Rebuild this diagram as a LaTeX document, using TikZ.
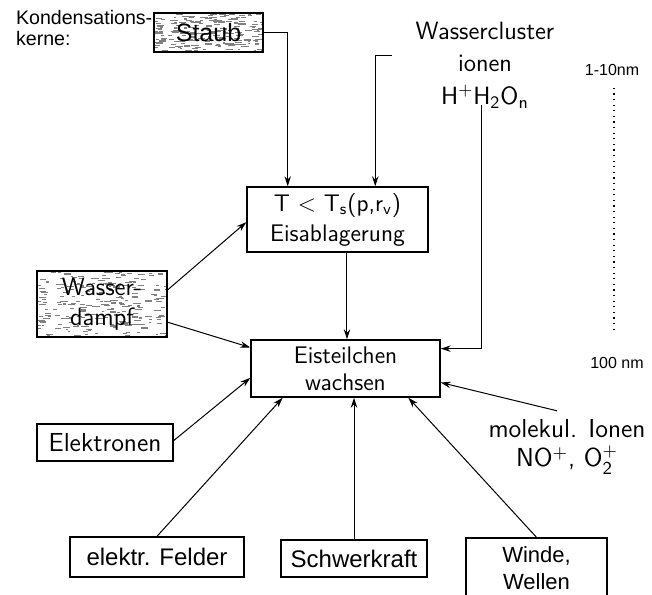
\documentclass[tikz,border=0pt]{standalone}
\usepackage{fontspec}
\newfontfamily\arialf{Liberation Sans}
\usetikzlibrary{calc,arrows.meta}
\begin{document}
\begin{tikzpicture}[x=0.5pt,y=-0.5pt,
  arr/.style={-{Stealth[length=5pt,width=3.2pt]}, line width=0.5pt},
  box/.style={draw, line width=0.7pt, inner sep=0pt, align=center},
  lm/.style={font=\sffamily\fontsize{12}{15}\selectfont},
  noisy/.style 2 args={path picture={
    \pgfmathsetseed{11}
    \foreach \i in {1,...,240}{
      \pgfmathsetmacro\rx{rnd}\pgfmathsetmacro\ry{rnd}\pgfmathsetmacro\rl{2+6*rnd}
      \draw[black!50, line width=0.55pt]
        ($(path picture bounding box.north west)+(\rx*#1,\ry*#2)$) -- ++(\rl,0);
    }}}]
\useasboundingbox (0,0) rectangle (652,594);

% text labels
\node[font=\arialf\fontsize{9.8}{10.5}\selectfont, align=left, anchor=west] (kond) at (9,28) {Kondensations-\\kerne:};
\node[font=\sffamily\fontsize{12.5}{16.3}\selectfont, align=center] (wc) at (485,65)
  {Wassercluster\\ionen\\H\textsuperscript{+}H\textsubscript{2}O\textsubscript{n}};
\node[font=\sffamily\fontsize{13}{14.5}\selectfont, align=center] (mol) at (567,447)
  {molekul. Ionen\\NO\textsuperscript{+}, $\mathsf{O}_{\mathsf{2}}^{+}$};
\node[font=\arialf\fontsize{8}{9}\selectfont] (s1) at (612,70) {1-10nm};
\node[font=\arialf\fontsize{8}{9}\selectfont] (s2) at (617,363) {100 nm};

% boxes
\node[box, noisy={109}{39}, minimum width=54.5pt, minimum height=19.5pt,
  font=\arialf\fontsize{12.5}{14}\selectfont] (staub) at (208.5,32.5) {Staub};
\node[box, lm, minimum width=90.5pt, minimum height=32.5pt] (ablag) at (337.5,219.5)
  {T $<$ T\textsubscript{s}(p,r\textsubscript{v})\\Eisablagerung};
\node[box, font=\sffamily\fontsize{12}{13.5}\selectfont, minimum width=94.5pt, minimum height=28.5pt] (wachs) at (345.5,368.5)
  {Eisteilchen\\wachsen};
\node[box, noisy={130}{66}, font=\sffamily\fontsize{12.5}{15}\selectfont, minimum width=65pt, minimum height=33pt] (dampf) at (102,304)
  {Wasser-\\dampf};
\node[box, font=\sffamily\fontsize{13}{15}\selectfont, minimum width=68pt, minimum height=18.5pt] (elek) at (105,442.5) {Elektronen};
\node[box, font=\arialf\fontsize{12}{15}\selectfont, minimum width=87pt, minimum height=20pt] (feld) at (157,557) {elektr. Felder};
\node[box, font=\arialf\fontsize{12}{15}\selectfont, minimum width=73pt, minimum height=18.5pt] (schw) at (354,558.5) {Schwerkraft};
\node[box, font=\arialf\fontsize{11}{13.2}\selectfont, minimum width=70.5pt, minimum height=30pt] (winde) at (536.5,568) {Winde,\\Wellen};

% connector points
\coordinate (a1) at ($(ablag.north west)!0.227!(ablag.north east)$);
\coordinate (a2) at ($(ablag.north west)!0.707!(ablag.north east)$);
\coordinate (w1) at (392,55);
\coordinate (b1s) at ($(ablag.south west)!0.552!(ablag.south east)$);
\coordinate (wcs) at (481,105);
\coordinate (wcE) at ($(wachs.north east)!0.16!(wachs.south east)$);

% connectors
\draw[arr] (staub.east) -| (a1);
\draw[arr] (w1) -| (a2);
\draw[arr] (b1s) -- (b1s |- wachs.north);
\draw[arr] (wcs) |- (wcE);
\draw[arr] ($(dampf.north east)!0.29!(dampf.south east)$) -- ($(ablag.north west)!0.54!(ablag.south west)$);
\draw[arr] ($(dampf.north east)!0.77!(dampf.south east)$) -- ($(wachs.north west)!0.14!(wachs.south west)$);
\draw[arr] ($(elek.north east)!0.45!(elek.south east)$) -- ($(wachs.north west)!0.66!(wachs.south west)$);
\draw[arr] (feld.north) -- ($(wachs.south west)!0.17!(wachs.south east)$);
\draw[arr] (schw.north) -- (schw.north |- wachs.south);
\draw[arr] (winde.north) -- ($(wachs.south west)!0.83!(wachs.south east)$);
\draw[arr] ($(mol.north)+(-10,-2)$) -- ($(wachs.north east)!0.74!(wachs.south east)$);
\draw[line width=0.6pt, dash pattern=on 0.6pt off 2.2pt] ($(s1.south)+(2,5)$) -- ($(s2.north)+(-3,-18)$);
\end{tikzpicture}
\end{document}
